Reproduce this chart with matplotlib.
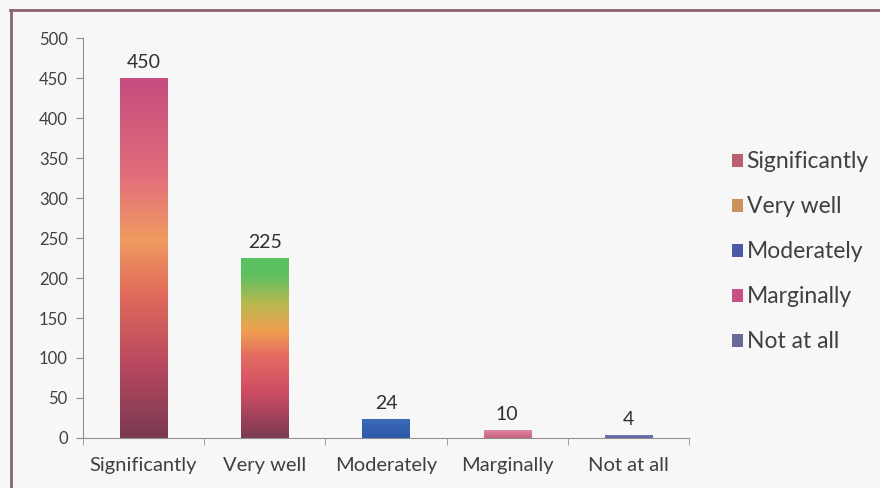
import numpy as np
import matplotlib
matplotlib.use("Agg")
import matplotlib.pyplot as plt
from matplotlib.colors import LinearSegmentedColormap
from matplotlib.patches import Patch
from matplotlib.lines import Line2D

categories = ["Significantly", "Very well", "Moderately", "Marginally", "Not at all"]
values = [450, 225, 24, 10, 4]
legend_labels = ["Significantly", "Very well", "Moderately", "Marginally", "Not at all"]
legend_colors = ["#b86070", "#c8925a", "#4a5aa8", "#c85085", "#6a6a98"]
yticks = [0, 50, 100, 150, 200, 250, 300, 350, 400, 450, 500]

# gradient stops (fraction of bar height from bottom, colour)
gradients = [
    [(0.0, "#7a3a52"), (0.2, "#b84860"), (0.4, "#e06a5a"), (0.55, "#f09a60"),
     (0.72, "#e2707a"), (1.0, "#c84c80")],
    [(0.0, "#7a3a52"), (0.25, "#cc4c62"), (0.45, "#e46a62"), (0.6, "#f0a050"),
     (0.75, "#b8b850"), (0.9, "#60c060"), (1.0, "#58c060")],
    [(0.0, "#2c58a8"), (1.0, "#3c6cb8")],
    [(0.0, "#c86080"), (1.0, "#e08aa0")],
    [(0.0, "#5a60a0"), (1.0, "#7a80b8")],
]

font = "Lato"
plt.rcParams['font.family'] = [font, 'DejaVu Sans']

fig = plt.figure(figsize=(8.8, 4.88), dpi=100)
fig.patch.set_facecolor("#f7f7f7")
ax = fig.add_axes([0.0943, 0.1025, 0.6887, 0.8195])
ax.set_facecolor("#f7f7f7")

x = np.arange(len(categories))
bars = ax.bar(x, values, width=0.39, color="none", edgecolor="none", zorder=2)

for b, stops in zip(bars, gradients):
    cmap = LinearSegmentedColormap.from_list("g", stops)
    grad = np.linspace(0, 1, 256).reshape(-1, 1)
    x0, y0 = b.get_x(), b.get_y()
    w, h = b.get_width(), b.get_height()
    im = ax.imshow(grad, cmap=cmap, origin="lower", aspect="auto",
                   extent=[x0, x0 + w, y0, y0 + h], zorder=2, interpolation="bilinear")
    im.set_clip_path(b)

ax.set_xlim(-0.5, len(categories) - 0.5)
ax.set_ylim(0, 500)

for b, v in zip(bars, values):
    ax.annotate(str(v), (b.get_x() + b.get_width() / 2, v), xytext=(0, 5),
                textcoords="offset points", ha="center", va="bottom",
                fontsize=14, color="#303030")

ax.set_yticks(yticks)
ax.set_yticklabels([str(t) for t in yticks], fontsize=12, color="#404040")
ax.set_xticks(x)
ax.set_xticklabels(categories, fontsize=14.5, color="#404040")
ax.tick_params(axis="x", length=0, pad=14)
ax.set_xticks(np.arange(-0.5, len(categories), 1.0), minor=True)
ax.tick_params(axis="x", which="minor", length=5, direction="out", color="#909090")
ax.tick_params(axis="y", length=5, direction="out", color="#909090", pad=6)

for s in ["top", "right"]:
    ax.spines[s].set_visible(False)
ax.spines["left"].set_color("#909090")
ax.spines["bottom"].set_color("#909090")

handles = [Patch(facecolor=c, edgecolor="none") for c in legend_colors]
leg = fig.legend(handles, legend_labels, loc="center left", bbox_to_anchor=(0.808, 0.484),
                 frameon=False, fontsize=16.5, handlelength=0.5, handleheight=0.5,
                 handletextpad=0.15, labelspacing=1.05)
for t in leg.get_texts():
    t.set_color("#404040")

# outer frame (top and left visible)
fig.add_artist(Line2D([10 / 880, 1.0], [1 - 10 / 488, 1 - 10 / 488],
                      transform=fig.transFigure, color="#8a6472", lw=2))
fig.add_artist(Line2D([11 / 880, 11 / 880], [0, 1 - 10 / 488],
                      transform=fig.transFigure, color="#8a6472", lw=2))

fig.savefig("out.png", dpi=100, facecolor=fig.get_facecolor())
